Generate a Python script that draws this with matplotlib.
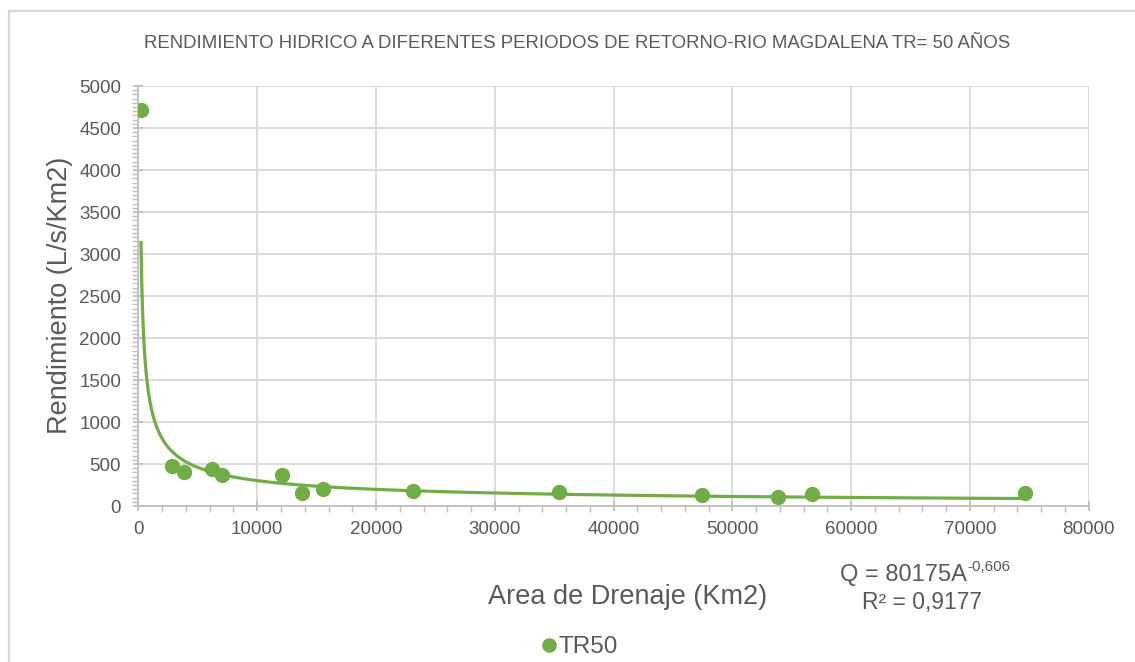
import numpy as np
import matplotlib
matplotlib.use('Agg')
import matplotlib.pyplot as plt
from matplotlib.patches import Rectangle
from matplotlib.ticker import MultipleLocator

plt.rcParams['font.family'] = ['Liberation Sans', 'DejaVu Sans']

# Area de drenaje (Km2) y rendimiento (L/s/Km2) para TR = 50 años
area = [210, 2850, 3830, 6160, 7060, 12080, 13740, 15560, 23110, 35380, 47440, 53820, 56710, 74640]
rendimiento = [4720, 480, 408, 444, 369, 369, 158, 202, 182, 163, 135, 111, 143, 151]

# Ajuste potencial Q = a * A^b
coef_a = 80175
coef_b = -0.606
r2 = 0.9177

verde = '#70AD47'
gris_texto = '#595959'
gris_grid = '#D9D9D9'

fig = plt.figure(figsize=(11.35, 6.62), dpi=100)
fig.patch.set_facecolor('white')
fig.patches.append(Rectangle((8.5 / 1135, -0.05), 1.2, 1 - 10.5 / 662 + 0.05, transform=fig.transFigure,
                             fill=False, edgecolor=gris_grid, linewidth=1.6))

ax = fig.add_axes([0.122, 0.2356, 0.8372, 0.6344])

A = np.linspace(min(area), max(area), 2000)
ax.plot(A, coef_a * A ** coef_b, color=verde, linewidth=2.3, zorder=3)
ax.plot(area, rendimiento, 'o', color=verde, markersize=10, zorder=4, label='TR50')

ax.set_xlim(0, 80000)
ax.set_ylim(0, 5000)
ax.xaxis.set_major_locator(MultipleLocator(10000))
ax.xaxis.set_minor_locator(MultipleLocator(2000))
ax.yaxis.set_major_locator(MultipleLocator(500))
ax.yaxis.set_minor_locator(MultipleLocator(50))
ax.grid(True, which='major', color=gris_grid, linewidth=1.3, zorder=0)
ax.set_axisbelow(True)

for s in ['top', 'right']:
    ax.spines[s].set_visible(False)
for s in ['left', 'bottom']:
    ax.spines[s].set_color('#BFBFBF')
    ax.spines[s].set_linewidth(1.3)

ax.tick_params(which='major', direction='inout', length=7, width=1.3, color='#BFBFBF',
               labelsize=13.5, labelcolor=gris_texto)
ax.tick_params(axis='y', which='major', pad=9)
ax.tick_params(axis='x', which='major', pad=7)
ax.tick_params(which='minor', direction='out', length=4, width=1.0, color='#BFBFBF')

fig.text(577 / 1135, 1 - 43 / 662, 'RENDIMIENTO HIDRICO A DIFERENTES PERIODOS DE RETORNO-RIO MAGDALENA TR= 50 AÑOS',
         ha='center', va='center', fontsize=13.4, color=gris_texto)
fig.text(60 / 1135, 1 - 295 / 662, 'Rendimiento (L/s/Km2)', rotation=90,
         ha='center', va='center', fontsize=19.5, color=gris_texto)
fig.text(628 / 1135, 1 - 597 / 662, 'Area de Drenaje (Km2)',
         ha='center', va='center', fontsize=19.5, color=gris_texto)

# ecuación de la línea de tendencia con exponente como superíndice
exponente = ('%.3f' % coef_b).replace('.', ',')
eq = fig.text(903 / 1135, 1 - 575 / 662, 'Q = %dA' % coef_a,
              ha='center', va='center', fontsize=17, color=gris_texto)
ax.annotate(exponente, xy=(1.0, 1.0), xycoords=eq, xytext=(0.5, 3), textcoords='offset points',
            ha='left', va='top', fontsize=11, color=gris_texto, annotation_clip=False)
fig.text(922 / 1135, 1 - 603 / 662, 'R² = ' + ('%.4f' % r2).replace('.', ','),
         ha='center', va='center', fontsize=16.5, color=gris_texto)

leg = fig.legend(loc='center', bbox_to_anchor=(577 / 1135, 1 - 647 / 662), frameon=False,
                 fontsize=17.5, handletextpad=-0.1, handlelength=1.0, markerscale=0.95)
for t in leg.get_texts():
    t.set_color(gris_texto)

fig.savefig('out.png', dpi=100)
